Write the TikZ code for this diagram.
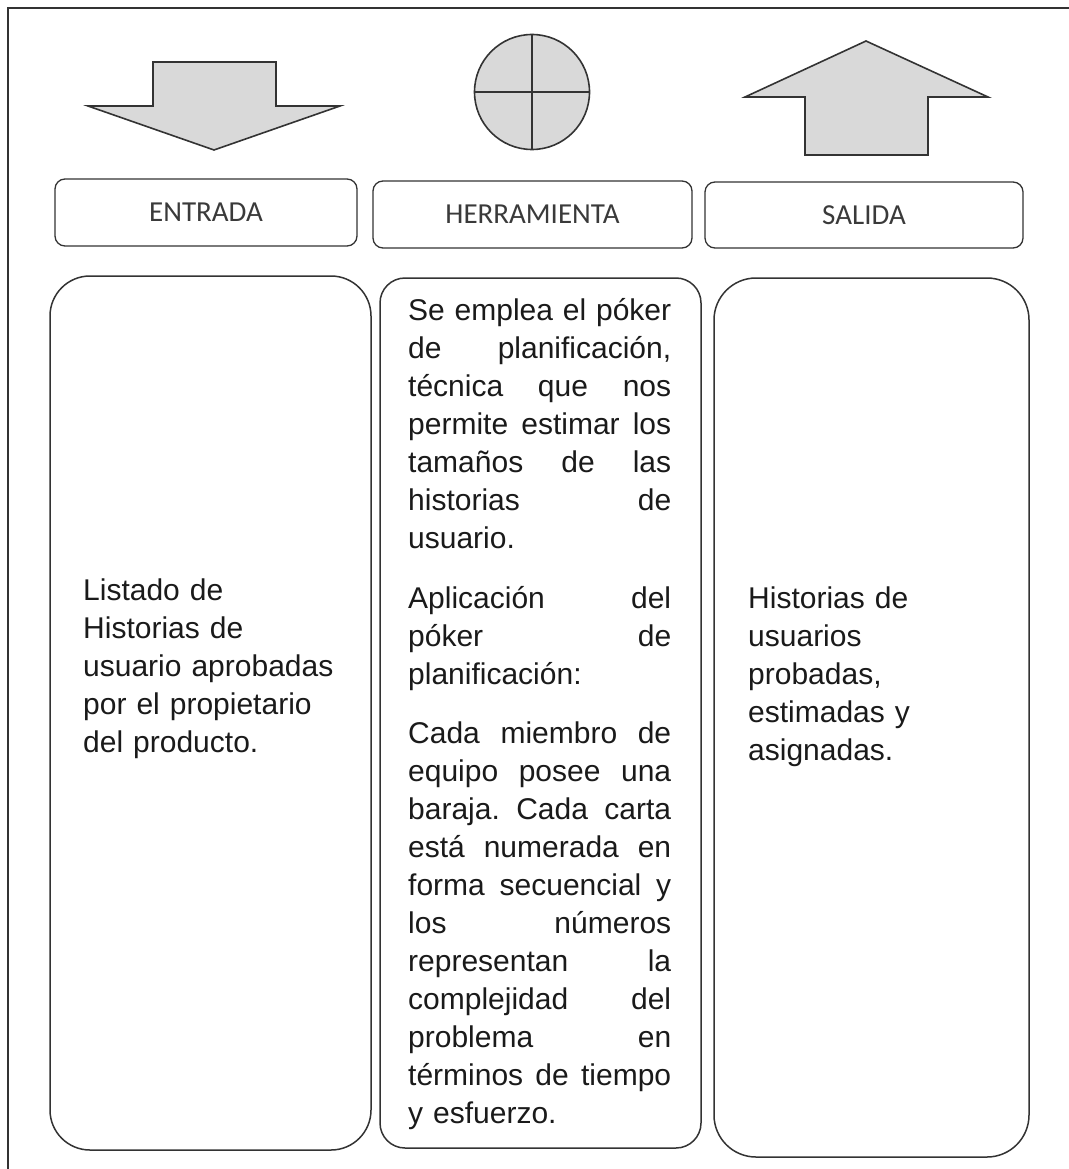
\documentclass[tikz,border=0pt]{standalone}
\usepackage{fontspec}
\setmainfont{Liberation Sans}
\newfontfamily\hdrfont{Carlito}
\definecolor{linec}{HTML}{333333}
\definecolor{shapefill}{HTML}{D9D9D9}
\definecolor{hdrtext}{HTML}{3A3A3A}
\definecolor{bodytext}{HTML}{1A1A1A}
\newcommand\jline[1]{\noindent\hbox to 263pt{\rule{0pt}{22pt}#1}\par}
\newcommand\fline[1]{\noindent\hbox to 263pt{\rule{0pt}{22pt}#1\hss}\par}
\begin{document}
\begin{tikzpicture}[x=1pt,y=-1pt,
  frame/.style={draw=linec, line width=1.6pt},
  shapestyle/.style={draw=linec, line width=1.6pt, fill=shapefill, line join=miter},
  hdrbox/.style={draw=linec, line width=1.3pt, rounded corners=10pt, inner sep=0pt,
    font=\hdrfont\fontsize{29pt}{34pt}\selectfont, text=hdrtext},
  colbox/.style={draw=linec, line width=1.5pt, inner sep=0pt},
  bodytxt/.style={inner sep=0pt, anchor=north west, text=bodytext,
    font=\fontsize{30pt}{38pt}\selectfont}
]
\useasboundingbox (0,0) rectangle (1068,1169);
% outer frame
\draw[frame] (8,1175) -- (8,8) -- (1075,8);

% input arrow (down)
\draw[shapestyle] (153,62) -- (276,62) -- (276,106) -- (340,106) -- (214,150)
  -- (88,106) -- (153,106) -- cycle;
% tool circle
\node[shapestyle, circle, minimum size=115pt, inner sep=0pt] (tool) at (532,92) {};
\draw[draw=linec, line width=1.6pt] (tool.north) -- (tool.south);
\draw[draw=linec, line width=1.6pt] (tool.west) -- (tool.east);
% output arrow (up)
\draw[shapestyle] (866,41) -- (988,97) -- (928,97) -- (928,155) -- (805,155)
  -- (805,97) -- (745,97) -- cycle;

% header boxes
\node[hdrbox, minimum width=302pt, minimum height=67pt] (entrada) at (206,212.5) {ENTRADA};
\node[hdrbox, minimum width=319pt, minimum height=67pt] (herr) at (532.5,214.5) {HERRAMIENTA};
\node[hdrbox, minimum width=318pt, minimum height=66pt] (salida) at (864,215) {SALIDA};

% column boxes
\node[colbox, rounded corners=40pt, minimum width=321pt, minimum height=874pt] (colA) at (210.5,713) {};
\node[colbox, rounded corners=25pt, minimum width=321pt, minimum height=870pt] (colB) at (540.5,713) {};
\node[colbox, rounded corners=42pt, minimum width=315pt, minimum height=879pt] (colC) at (871.5,717.5) {};

% texts
\node[bodytxt, text width=280pt, align=left] (txtA) at (83,570)
  {\rule{0pt}{30pt}Listado de\\Historias de\\usuario aprobadas\\por el propietario\\del producto.};

\node[bodytxt, text width=263pt] (txtB) at (408,290) {%
\jline{\rule{0pt}{30pt}Se\hfill emplea\hfill el\hfill póker}
\jline{de\hfill planificación,}
\jline{técnica\hfill que\hfill nos}
\jline{permite\hfill estimar\hfill los}
\jline{tamaños\hfill de\hfill las}
\jline{historias\hfill de}
\fline{usuario.}
\vspace{22pt}
\jline{Aplicación\hfill del}
\jline{póker\hfill de}
\fline{planificación:}
\vspace{21pt}
\jline{Cada\hfill miembro\hfill de}
\jline{equipo\hfill posee\hfill una}
\jline{baraja.\hfill Cada\hfill carta}
\jline{está\hfill numerada\hfill en}
\jline{forma\hfill secuencial\hfill y}
\jline{los\hfill números}
\jline{representan\hfill la}
\jline{complejidad\hfill del}
\jline{problema\hfill en}
\jline{términos\hfill de\hfill tiempo}
\fline{y esfuerzo.}};

\node[bodytxt, text width=270pt, align=left] (txtC) at (748,578)
  {\rule{0pt}{30pt}Historias de\\usuarios\\probadas,\\estimadas y\\asignadas.};
\end{tikzpicture}
\end{document}
